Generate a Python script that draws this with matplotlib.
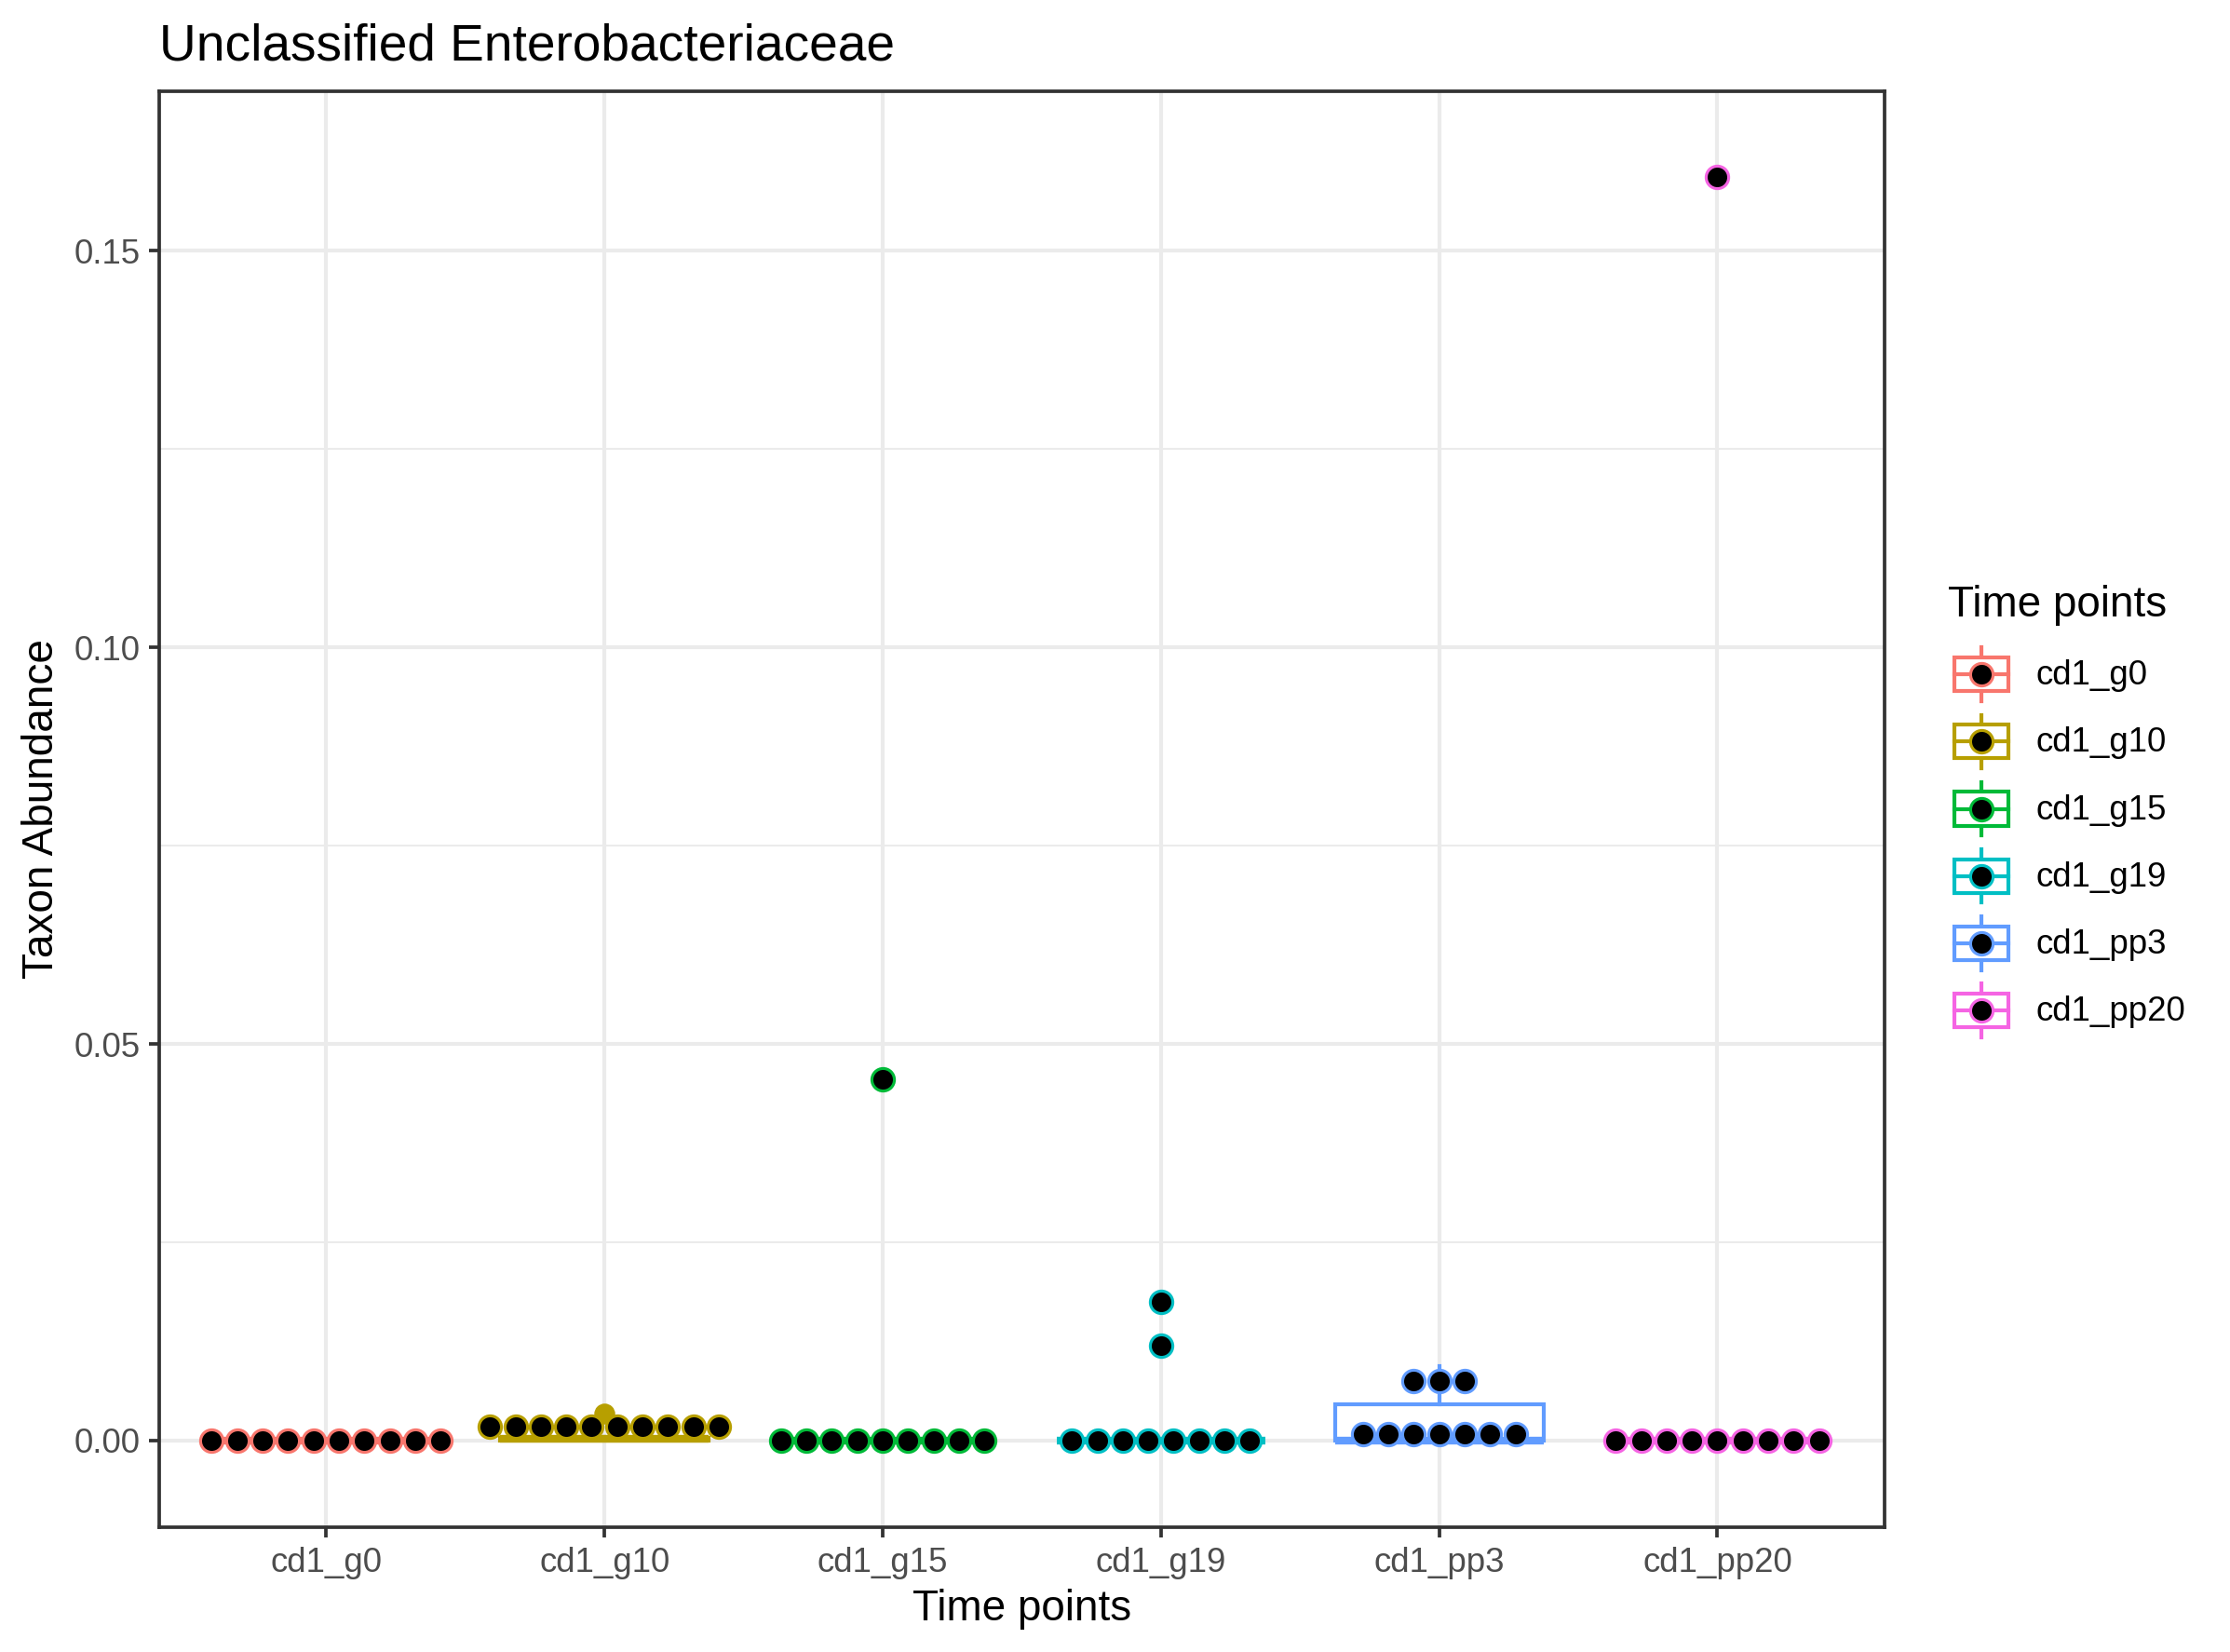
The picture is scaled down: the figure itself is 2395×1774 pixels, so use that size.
"""
Boxplot + centred dot stacks per time point (ggplot theme_bw look).
"""

import matplotlib
matplotlib.use("Agg")
import matplotlib.pyplot as plt
import numpy as np
from matplotlib.legend_handler import HandlerBase
from matplotlib.lines import Line2D
from matplotlib.patches import Rectangle

plt.rcParams['font.family'] = ['Liberation Sans', 'DejaVu Sans']

groups = ['cd1_g0', 'cd1_g10', 'cd1_g15', 'cd1_g19', 'cd1_pp3', 'cd1_pp20']
colors = ['#F8766D', '#B79F00', '#00BA38', '#00BFC4', '#619CFF', '#F564E3']

g0 = [0, 0, 0, 0, 0, 0, 0, 0, 0, 0]
g10 = [0, 0, 0, 0.0001, 0.0002, 0.0002, 0.0003, 0.0004, 0.0005, 0.0034]
g15 = [0, 0, 0, 0, 0, 0, 0, 0, 0, 0.0455]
g19 = [0, 0, 0, 0, 0, 0, 0, 0, 0.012, 0.0175]
pp3 = [0, 0, 0, 0, 0, 0, 0.0016, 0.0055, 0.0075, 0.0094]
pp20 = [0, 0, 0, 0, 0, 0, 0, 0, 0, 0.1593]
values = [g0, g10, g15, g19, pp3, pp20]

yticks = [0.00, 0.05, 0.10, 0.15]

DPI = 300
fig = plt.figure(figsize=(2395 / DPI, 1774 / DPI), dpi=DPI)
ax = fig.add_axes([0.0714, 0.0755, 0.7736, 0.8693])

xlim = (0.4, len(groups) + 0.6)
ax.set_xlim(*xlim)
ax.set_ylim(-0.01093, 0.1701)

positions = np.arange(1, len(groups) + 1)
box_lw = 1.0

# boxplots, ggplot style (no caps, outliers in group colour)
for pos, vals, col in zip(positions, values, colors):
    ax.boxplot([vals], positions=[pos], widths=0.75, whis=1.5, showcaps=False,
               patch_artist=True, manage_ticks=False,
               boxprops=dict(facecolor='white', edgecolor=col, linewidth=box_lw),
               whiskerprops=dict(color=col, linewidth=box_lw),
               medianprops=dict(color=col, linewidth=box_lw * 2),
               flierprops=dict(marker='o', markerfacecolor=col, markeredgecolor=col,
                               markersize=4.4),
               zorder=3)

# dotplot: dot-density binning along y, stacks centred on each group
all_vals = np.concatenate([np.asarray(v, float) for v in values])
binwidth = (all_vals.max() - all_vals.min()) / 30

dot_pt = 6.55
edge_lw = 0.75
ax_w_px = 0.7736 * fig.get_figwidth() * DPI
dx = (dot_pt * DPI / 72) / (ax_w_px / (xlim[1] - xlim[0]))

for pos, vals, col in zip(positions, values, colors):
    x = np.sort(np.asarray(vals, float))
    bins = []
    binend = -np.inf
    for v in x:
        if v >= binend:
            bins.append([])
            binend = v + binwidth
        bins[-1].append(v)
    for b in bins:
        yc = (min(b) + max(b)) / 2
        n = len(b)
        xs = pos + (np.arange(n) - (n - 1) / 2) * dx
        ax.plot(xs, [yc] * n, linestyle='none', marker='o', markersize=dot_pt - edge_lw,
                markerfacecolor='black', markeredgecolor=col, markeredgewidth=edge_lw,
                zorder=4)

# theme_bw
ax.set_xticks(positions)
ax.set_xticklabels(groups)
ax.set_yticks(yticks)
ax.set_yticklabels([f'{t:.2f}' for t in yticks])
ax.set_yticks([0.025, 0.075, 0.125], minor=True)
ax.grid(True, which='major', color='#EBEBEB', linewidth=1.0, zorder=0)
ax.grid(True, which='minor', axis='y', color='#EBEBEB', linewidth=0.5, zorder=0)
ax.set_axisbelow(True)
for s in ax.spines.values():
    s.set_color('#333333')
    s.set_linewidth(0.9)
ax.tick_params(which='major', length=2.75, width=0.9, color='#333333',
               labelcolor='#4D4D4D', labelsize=8.8, pad=2.2)
ax.tick_params(which='minor', length=0)

ax.set_xlabel('Time points', fontsize=11, labelpad=2.5)
ax.set_ylabel('Taxon Abundance', fontsize=11, labelpad=3)
ax.set_title('Unclassified Enterobacteriaceae', loc='left', fontsize=13.2, pad=8)


class BoxDotHandler(HandlerBase):
    def create_artists(self, legend, orig_handle, xdescent, ydescent,
                       width, height, fontsize, trans):
        col = orig_handle.get_color()
        x0, y0 = -xdescent, -ydescent
        xc, yc = x0 + width / 2, y0 + height / 2
        lw = box_lw
        arts = [
            Line2D([xc, xc], [y0 + 0.1 * height, y0 + 0.25 * height], color=col, lw=lw),
            Line2D([xc, xc], [y0 + 0.75 * height, y0 + 0.9 * height], color=col, lw=lw),
            Rectangle((x0 + 0.1 * width, y0 + 0.25 * height), 0.8 * width, 0.5 * height,
                      facecolor='white', edgecolor=col, lw=lw),
            Line2D([x0 + 0.1 * width, x0 + 0.9 * width], [yc, yc], color=col, lw=lw),
            Line2D([xc], [yc], linestyle='none', marker='o', markersize=dot_pt - edge_lw,
                   markerfacecolor='black', markeredgecolor=col, markeredgewidth=edge_lw),
        ]
        for a in arts:
            a.set_transform(trans)
        return arts


handles = [Line2D([], [], color=c) for c in colors]
leg = fig.legend(handles, groups, title='Time points', loc='center left',
                 bbox_to_anchor=(0.8735, 0.5072), frameon=False, fontsize=8.8,
                 title_fontsize=11, handlelength=1.964, handleheight=2.648,
                 labelspacing=0, handletextpad=0.62, borderpad=0, borderaxespad=0,
                 handler_map={Line2D: BoxDotHandler()})
leg._legend_box.align = 'left'
leg._legend_box.sep = 4

fig.savefig('out.png', dpi=DPI)
plt.close(fig)
